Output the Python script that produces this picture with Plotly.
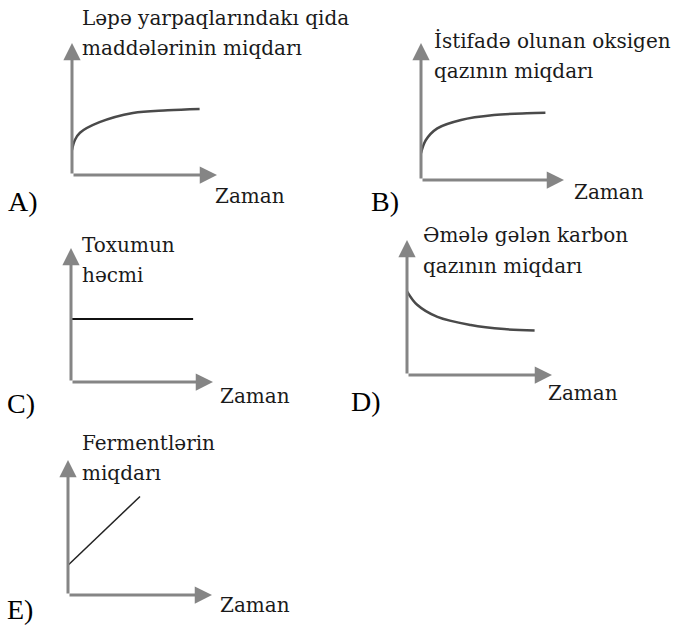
import plotly.graph_objects as go

W, H = 688, 628

# ---- data (axis units 0..10) ----
panel_letters = ["A)", "B)", "C)", "D)", "E)"]
axis_x_label = "Zaman"
label_lines = [
    ["Ləpə yarpaqlarındakı qida", "maddələrinin miqdarı"],
    ["İstifadə olunan oksigen", "qazının miqdarı"],
    ["Toxumun", "həcmi"],
    ["Əmələ gələn karbon", "qazının miqdarı"],
    ["Fermentlərin", "miqdarı"],
]
a_x = [0, 0.2, 0.55, 1.9, 4.2, 6.6, 8.8]
a_y = [1.9, 2.65, 3.2, 4.0, 4.7, 4.9, 5.0]
b_x = [0, 0.33, 1.14, 2.8, 5.1, 7.4, 8.7]
b_y = [1.95, 2.9, 3.77, 4.38, 4.74, 4.87, 4.9]
c_x = [0, 8.6]
c_y = [4.7, 4.7]
d_x = [0, 0.7, 2.1, 4.4, 6.7, 8.8]
d_y = [6.2, 5.2, 4.3, 3.7, 3.4, 3.3]
e_x = [0, 5.0]
e_y = [2.2, 7.3]
axis_max = 10

# ---- layout (pixel geometry) ----
panels = [
    dict(ox=72, oy=175, xt=217, yt=43),
    dict(ox=421, oy=180, xt=564, yt=43),
    dict(ox=71, oy=382, xt=213, yt=248),
    dict(ox=407, oy=375, xt=552, yt=240),
    dict(ox=68, oy=595, xt=212, yt=460),
]
series = [
    (a_x, a_y, "spline", "#4a4a4a", 2.5),
    (b_x, b_y, "spline", "#4a4a4a", 2.5),
    (c_x, c_y, "linear", "#111111", 1.8),
    (d_x, d_y, "spline", "#4a4a4a", 2.5),
    (e_x, e_y, "linear", "#222222", 1.5),
]
label_pos = [(80, 25, 55), (432, 48, 78), (80, 252, 282), (421, 242, 273), (80, 450, 480)]
zaman_pos = [(213, 203), (572, 199), (218, 403), (546, 400), (218, 612)]
letter_pos = [(6, 211), (369, 211), (5, 413), (349, 411), (5, 619)]

def px(x):
    return x / W

def py(y):
    return 1 - y / H

fig = go.Figure()
annotations = []
LBL = 20
LET = 28

for i, (p, s) in enumerate(zip(panels, series)):
    n = "" if i == 0 else str(i + 1)
    xa, ya = "xaxis" + n, "yaxis" + n
    xr, yr = "x" + n, "y" + n
    fig.update_layout({
        xa: dict(domain=[px(p["ox"]), px(p["xt"])], range=[0, axis_max], visible=False,
                 anchor=yr, fixedrange=True),
        ya: dict(domain=[py(p["oy"]), py(p["yt"])], range=[0, axis_max], visible=False,
                 anchor=xr, fixedrange=True),
    })
    xs, ys, shape, col, wid = s
    fig.add_trace(go.Scatter(x=xs, y=ys, mode="lines", xaxis=xr, yaxis=yr,
                             line=dict(color=col, width=wid, shape=shape, smoothing=1.0),
                             showlegend=False, hoverinfo="skip"))
    for (tx, ty) in [(axis_max, 0), (0, axis_max)]:
        annotations.append(dict(x=tx, y=ty, ax=0, ay=0, xref=xr, yref=yr, axref=xr, ayref=yr,
                                text="", showarrow=True, arrowhead=2, arrowsize=1.15,
                                arrowwidth=3, arrowcolor="#858585"))
    lx, b1, b2 = label_pos[i]
    for line, b in zip(label_lines[i], (b1, b2)):
        annotations.append(dict(x=px(lx), y=py(b - 0.33 * LBL), xref="paper", yref="paper",
                                text=line, showarrow=False, xanchor="left", yanchor="middle",
                                font=dict(family="DejaVu Serif", size=LBL, color="#1a1a1a")))
    zx, zb = zaman_pos[i]
    annotations.append(dict(x=px(zx), y=py(zb - 0.33 * LBL), xref="paper", yref="paper",
                            text=axis_x_label, showarrow=False, xanchor="left", yanchor="middle",
                            font=dict(family="DejaVu Serif", size=LBL, color="#1a1a1a")))
    lx2, lb = letter_pos[i]
    annotations.append(dict(x=px(lx2), y=py(lb - 0.33 * LET), xref="paper", yref="paper",
                            text=panel_letters[i], showarrow=False, xanchor="left", yanchor="middle",
                            font=dict(family="Liberation Serif", size=LET, color="#000000")))

fig.update_layout(width=W, height=H, margin=dict(l=0, r=0, t=0, b=0),
                  paper_bgcolor="white", plot_bgcolor="white",
                  annotations=annotations, showlegend=False)

fig.write_html("out.html", config={"displayModeBar": False, "staticPlot": True},
               post_script="document.body.style.margin='0';")
